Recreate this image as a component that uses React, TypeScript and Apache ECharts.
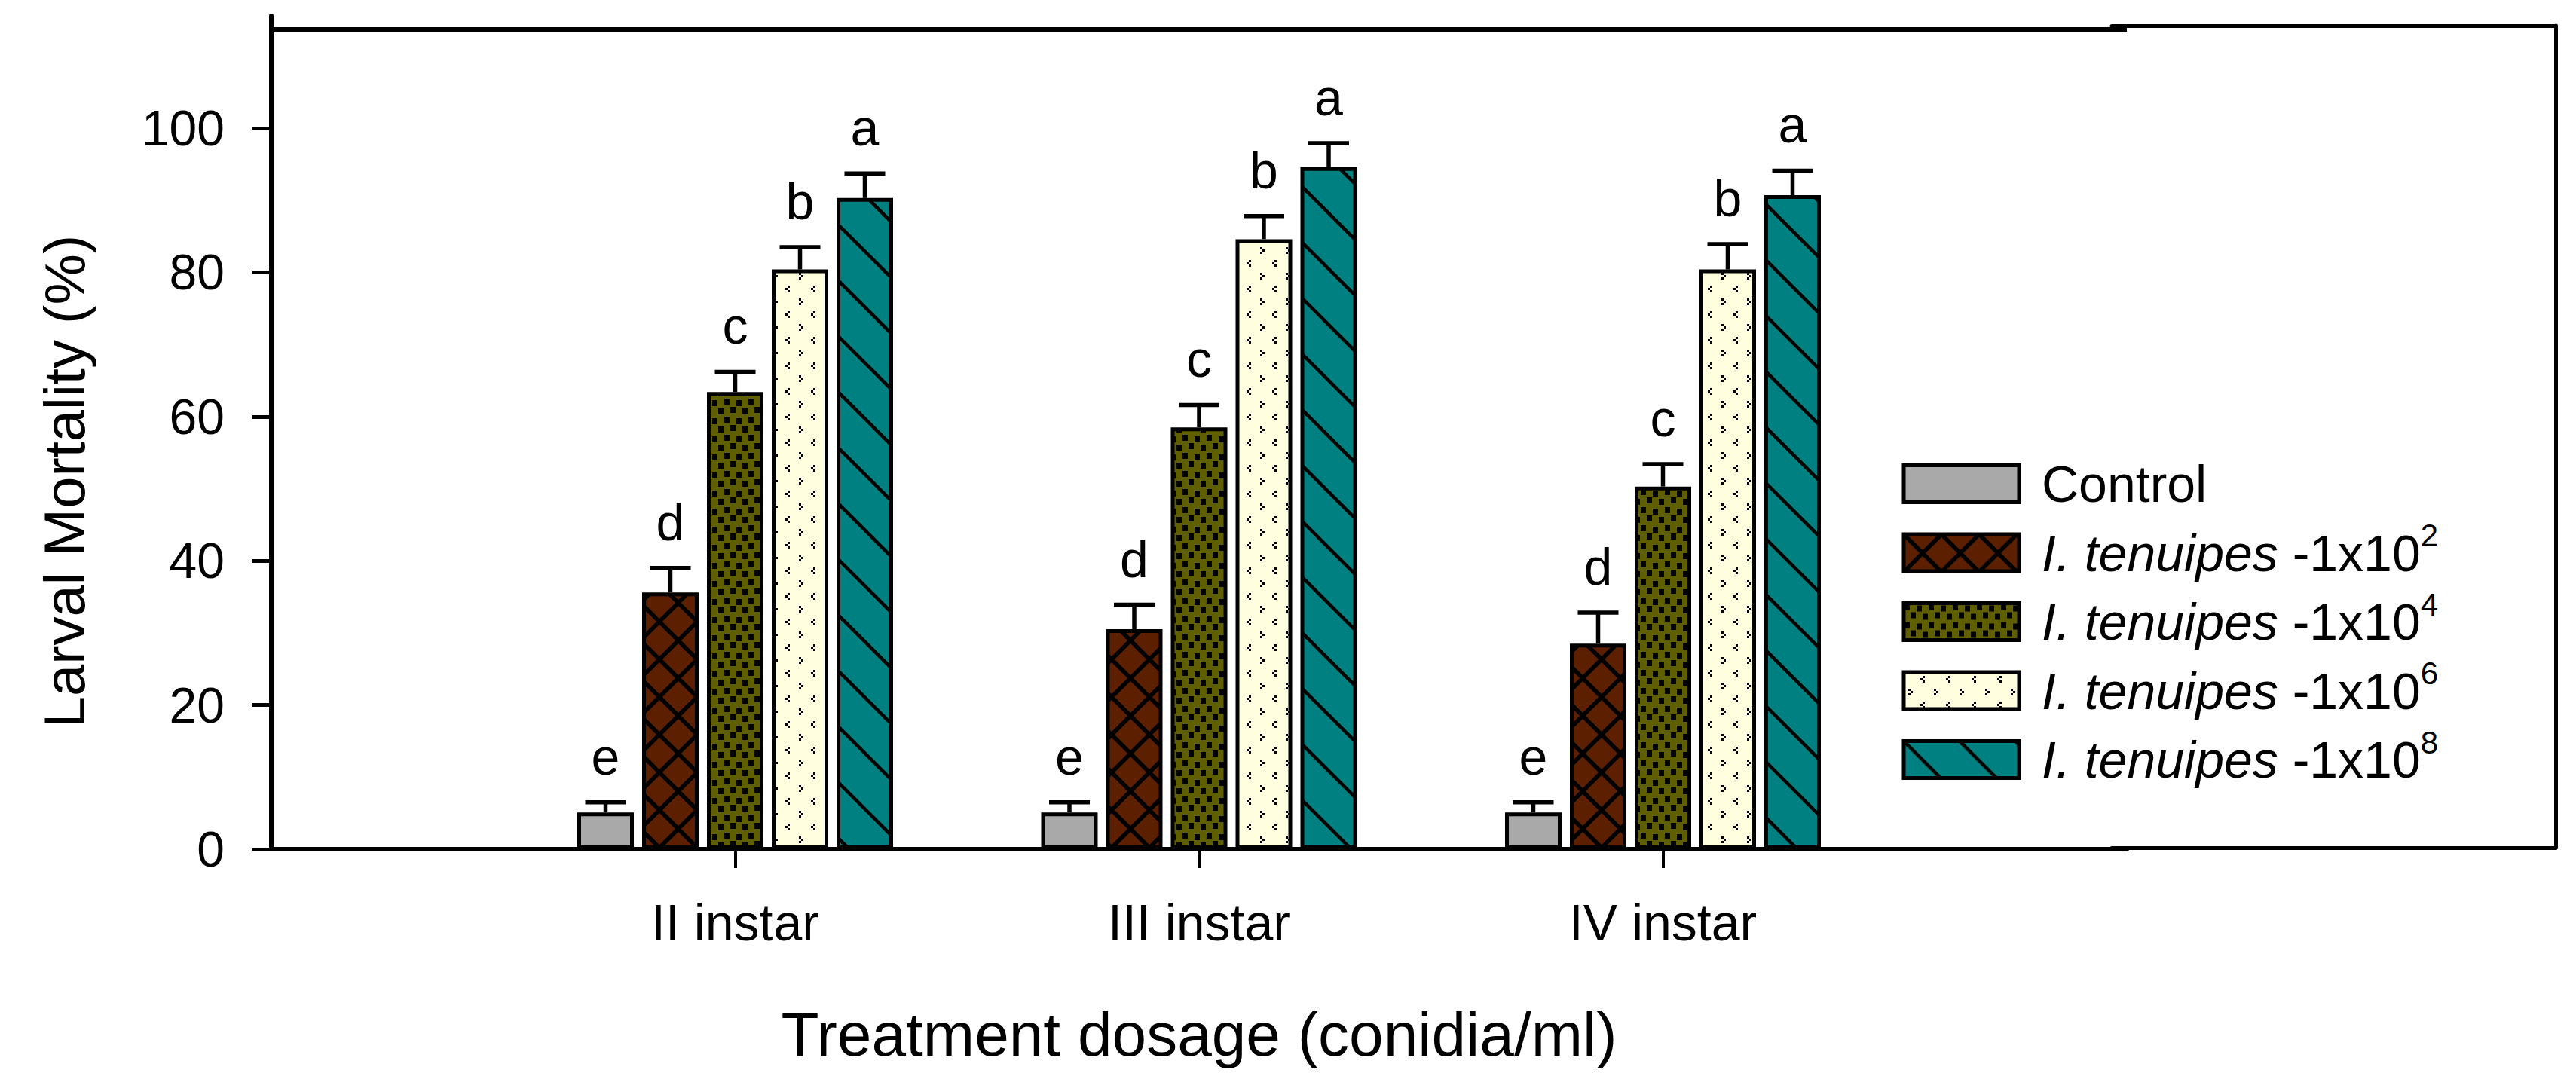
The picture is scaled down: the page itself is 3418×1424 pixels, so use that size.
import React, { useEffect, useRef } from 'react';
import * as echarts from 'echarts';

// ---------------- data ----------------
const CATEGORIES = ['II instar', 'III instar', 'IV instar'];
const SERIES_NAMES = [
  'Control',
  'I. tenuipes -1x10^2',
  'I. tenuipes -1x10^4',
  'I. tenuipes -1x10^6',
  'I. tenuipes -1x10^8',
];
const EXPONENTS = ['', '2', '4', '6', '8'];
const LETTERS = ['e', 'd', 'c', 'b', 'a'];

const CONTROL = [5.1, 5.1, 5.1];
const DOSE_1E2 = [35.6, 30.5, 28.5];
const DOSE_1E4 = [63.4, 58.5, 50.3];
const DOSE_1E6 = [80.4, 84.6, 80.4];
const DOSE_1E8 = [90.3, 94.6, 90.7];

const CONTROL_ERR = [1.4, 1.4, 1.4];
const DOSE_1E2_ERR = [3.4, 3.4, 4.3];
const DOSE_1E4_ERR = [2.8, 3.1, 3.1];
const DOSE_1E6_ERR = [3.1, 3.2, 3.5];
const DOSE_1E8_ERR = [3.4, 3.3, 3.4];

const Y_TICKS = [0, 20, 40, 60, 80, 100];
const Y_MAX = 115.57;
const FRAME_TOP_VALUE = 113.69;

const MEANS = [CONTROL, DOSE_1E2, DOSE_1E4, DOSE_1E6, DOSE_1E8];
const ERRS = [CONTROL_ERR, DOSE_1E2_ERR, DOSE_1E4_ERR, DOSE_1E6_ERR, DOSE_1E8_ERR];

// ---------------- styles ----------------
const FONT = 'Liberation Sans';
const BAR_W = 75;
const BAR_GAP_PX = 11;
const BAR_PITCH = BAR_W + BAR_GAP_PX;
const BORDER = 5;
const LEG_LH = 90;

const svgUrl = (w: number, h: number, body: string) =>
  'data:image/svg+xml;charset=utf-8,' +
  encodeURIComponent(
    `<svg xmlns="http://www.w3.org/2000/svg" width="${w}" height="${h}" viewBox="0 0 ${w} ${h}">${body}</svg>`
  );

const diagLines = (p: number, sw: number, down: boolean, both: boolean) => {
  let s = '';
  for (const c of [-p, 0, p, 2 * p]) {
    if (down) s += `<line x1="${-p}" y1="${-p + c}" x2="${2 * p}" y2="${2 * p + c}" stroke="#000" stroke-width="${sw}"/>`;
    if (both || !down) s += `<line x1="${-p}" y1="${p + c}" x2="${2 * p}" y2="${-2 * p + c}" stroke="#000" stroke-width="${sw}"/>`;
  }
  return s;
};

const PAT_GRAY = '#A9A9A9';
const PAT_CROSS = {
  image: svgUrl(50, 50, `<rect width="50" height="50" fill="#5C1F00"/>` + diagLines(50, 5.5, true, true)),
  repeat: 'repeat',
  imageWidth: 50,
  imageHeight: 50,
};
const PAT_OLIVE = {
  image: svgUrl(
    32,
    24,
    `<rect width="32" height="24" fill="#5F5F00"/>` +
      `<g fill="#000" shape-rendering="crispEdges">` +
      `<rect x="1" y="1" width="7" height="8"/><rect x="17" y="3" width="7" height="8"/>` +
      `<rect x="9" y="12" width="7" height="8"/><rect x="25" y="14" width="7" height="8"/></g>`
  ),
  repeat: 'repeat',
  imageWidth: 32,
  imageHeight: 24,
};
const PAT_CREAM = {
  image: svgUrl(
    34,
    34,
    `<rect width="34" height="34" fill="#FFFFE0"/>` +
      `<g fill="#000" shape-rendering="crispEdges">` +
      `<rect x="25" y="5" width="3" height="3"/><rect x="22" y="8" width="3" height="3"/><rect x="25" y="11" width="3" height="3"/>` +
      `<rect x="6" y="22" width="3" height="3"/><rect x="9" y="25" width="3" height="3"/><rect x="6" y="28" width="3" height="3"/></g>`
  ),
  repeat: 'repeat',
  imageWidth: 34,
  imageHeight: 34,
};
const PAT_TEAL = {
  image: svgUrl(74, 74, `<rect width="74" height="74" fill="#008080"/>` + diagLines(74, 4.5, true, false)),
  repeat: 'repeat',
  imageWidth: 74,
  imageHeight: 74,
};
const FILLS: any[] = [PAT_GRAY, PAT_CROSS, PAT_OLIVE, PAT_CREAM, PAT_TEAL];

// ---------------- option ----------------
const AXIS_CATS = ['', ...CATEGORIES, ''];

const barSeries = SERIES_NAMES.map((name, k) => ({
  type: 'bar',
  name,
  xAxisIndex: 0,
  yAxisIndex: 0,
  data: ['-', ...MEANS[k], '-'],
  barWidth: BAR_W,
  barGap: `${((BAR_GAP_PX / BAR_W) * 100).toFixed(2)}%`,
  silent: true,
  itemStyle: { color: FILLS[k], borderColor: '#000', borderWidth: BORDER },
  ...(k === 0
    ? {
        markLine: {
          silent: true,
          symbol: ['none', 'none'],
          label: { show: false },
          lineStyle: { color: '#000', width: 6, type: 'solid' },
          data: [{ yAxis: FRAME_TOP_VALUE }],
        },
      }
    : {}),
}));

const errData: number[][] = [];
MEANS.forEach((arr, k) => {
  arr.forEach((m, c) => {
    errData.push([c + 1, m, m + ERRS[k][c], k]);
  });
});

const errSeries = {
  type: 'custom',
  xAxisIndex: 0,
  yAxisIndex: 0,
  silent: true,
  z: 5,
  data: errData,
  encode: { x: 0, y: 1 },
  renderItem: (_params: any, api: any) => {
    const cat = api.value(0);
    const mean = api.value(1);
    const top = api.value(2);
    const k = api.value(3);
    const base = api.coord([cat, mean]);
    const tp = api.coord([cat, top]);
    const x = base[0] + (k - 2) * BAR_PITCH;
    const ls = { stroke: '#000', lineWidth: 5.5 };
    return {
      type: 'group',
      children: [
        { type: 'line', shape: { x1: x, y1: base[1], x2: x, y2: tp[1] }, style: ls },
        { type: 'line', shape: { x1: x - 27, y1: tp[1], x2: x + 27, y2: tp[1] }, style: ls },
        {
          type: 'text',
          x,
          y: tp[1] - 27,
          style: {
            text: LETTERS[k],
            fill: '#000',
            fontSize: 68,
            fontFamily: FONT,
            align: 'center',
            verticalAlign: 'bottom',
          },
        },
      ],
    };
  },
};

const frameLine = { show: true, onZero: false, lineStyle: { color: '#000', width: 5 } };

const option: any = {
  animation: false,
  backgroundColor: '#fff',
  textStyle: { fontFamily: FONT, color: '#000' },
  grid: [
    { left: 360, right: 596, top: 21, bottom: 297, containLabel: false },
    { left: 2802, right: 27, top: 34, bottom: 299, containLabel: false },
  ],
  legend: {
    data: SERIES_NAMES,
    orient: 'vertical',
    left: 2518.5,
    top: 612.5 - (LEG_LH - 49) / 2,
    icon: 'rect',
    itemWidth: 153,
    itemHeight: 49,
    itemGap: 91.5 - LEG_LH,
    selectedMode: false,
    itemStyle: { borderColor: '#000', borderWidth: BORDER },
    textStyle: {
      fontSize: 68,
      color: '#000',
      fontFamily: FONT,
      lineHeight: LEG_LH,
      padding: [0, 0, 0, 25],
      rich: {
        it: { fontStyle: 'italic', fontSize: 68, lineHeight: LEG_LH, fontFamily: FONT, color: '#000' },
        n: { fontSize: 68, lineHeight: LEG_LH, fontFamily: FONT, color: '#000' },
        s: { fontSize: 42, lineHeight: LEG_LH, padding: [0, 0, 46, 0], fontFamily: FONT, color: '#000' },
      },
    },
    formatter: (name: string) => {
      const k = SERIES_NAMES.indexOf(name);
      if (k === 0) return `{n|${name}}`;
      return `{it|I. tenuipes}{n| -1x10}{s|${EXPONENTS[k]}}`;
    },
  },
  xAxis: [
    {
      type: 'category',
      gridIndex: 0,
      data: AXIS_CATS,
      boundaryGap: false,
      axisLine: { show: true, onZero: false, lineStyle: { color: '#000', width: 6 } },
      axisTick: {
        show: true,
        inside: false,
        length: 25,
        interval: (i: number) => i >= 1 && i <= CATEGORIES.length,
        lineStyle: { color: '#000', width: 4 },
      },
      axisLabel: {
        interval: (i: number) => i >= 1 && i <= CATEGORIES.length,
        fontSize: 68,
        color: '#000',
        fontFamily: FONT,
        margin: 63,
      },
      splitLine: { show: false },
      name: 'Treatment dosage (conidia/ml)',
      nameLocation: 'middle',
      nameGap: 204,
      nameTextStyle: { fontSize: 82, color: '#000', fontFamily: FONT },
    },
    {
      type: 'value',
      gridIndex: 1,
      min: 0,
      max: 1,
      position: 'bottom',
      axisLine: frameLine,
      axisTick: { show: false },
      axisLabel: { show: false },
      splitLine: { show: false },
    },
    {
      type: 'value',
      gridIndex: 1,
      min: 0,
      max: 1,
      position: 'top',
      axisLine: frameLine,
      axisTick: { show: false },
      axisLabel: { show: false },
      splitLine: { show: false },
    },
  ],
  yAxis: [
    {
      type: 'value',
      gridIndex: 0,
      min: 0,
      max: Y_MAX,
      axisLine: { show: true, onZero: false, lineStyle: { color: '#000', width: 6 } },
      axisTick: { show: true, inside: false, length: 25, customValues: Y_TICKS, lineStyle: { color: '#000', width: 5 } },
      axisLabel: { customValues: Y_TICKS, fontSize: 66, color: '#000', fontFamily: FONT, margin: 62 },
      splitLine: { show: false },
      name: 'Larval Mortality (%)',
      nameLocation: 'middle',
      nameRotate: 90,
      nameGap: 237,
      nameTextStyle: { fontSize: 76, color: '#000', fontFamily: FONT, padding: [0, 130, 0, 0] },
    },
    {
      type: 'value',
      gridIndex: 1,
      min: 0,
      max: 1,
      position: 'right',
      axisLine: frameLine,
      axisTick: { show: false },
      axisLabel: { show: false },
      splitLine: { show: false },
    },
  ],
  series: [...barSeries, errSeries],
};

export default function App() {
  const ref = useRef<HTMLDivElement>(null);
  useEffect(() => {
    if (!ref.current) return;
    const chart = echarts.init(ref.current, null, { renderer: 'svg', width: 3418, height: 1424 });
    chart.setOption(option);
    return () => chart.dispose();
  }, []);
  return (
    <div
      ref={ref}
      style={{ position: 'fixed', left: 0, top: 0, width: 3418, height: 1424, background: '#fff' }}
    />
  );
}
